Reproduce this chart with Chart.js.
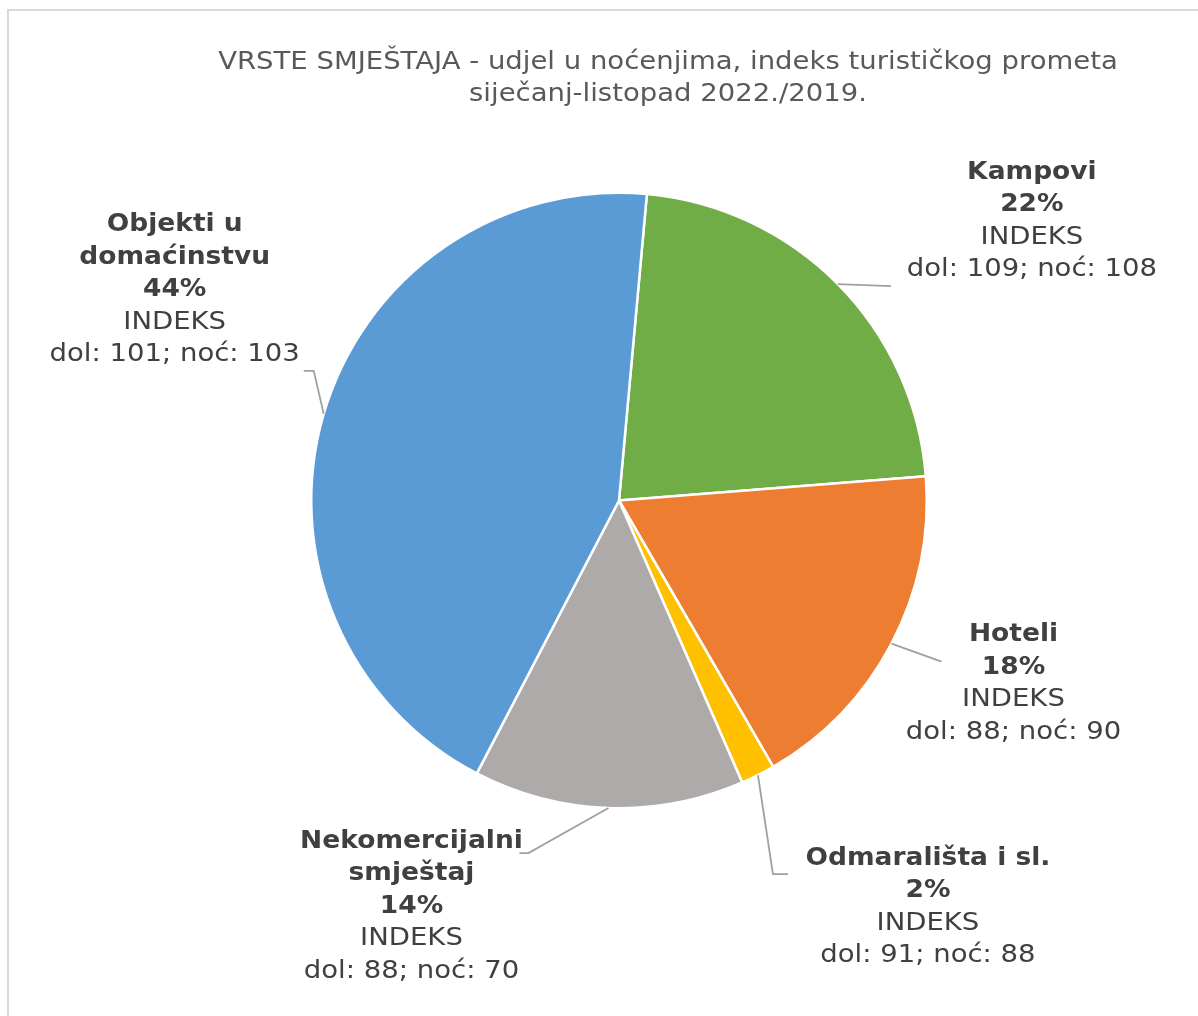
<!DOCTYPE html>
<html>
<head>
<meta charset="utf-8">
<script src="https://cdn.jsdelivr.net/npm/chart.js@4"></script>
<style>
  html, body { margin: 0; padding: 0; background: #fff; overflow: hidden; }
  #frame { position: absolute; left: 7px; top: 9px; width: 1300px; height: 1100px; border: 2px solid #d9d9d9; }
  #wrap { position: absolute; left: 0; top: 0; width: 1198px; height: 1016px; }
</style>
</head>
<body>
<div id="frame"></div>
<div id="wrap"><canvas id="pie" width="1198" height="1016"></canvas></div>
<script>
// data
const categories = ['Kampovi', 'Hoteli', 'Odmarališta i sl.', 'Nekomercijalni smještaj', 'Objekti u domaćinstvu'];
const labelLines = [['Kampovi'], ['Hoteli'], ['Odmarališta i sl.'], ['Nekomercijalni', 'smještaj'], ['Objekti u', 'domaćinstvu']];
const shares = [22.3, 17.9, 1.8, 14.2, 43.8];
const shareLabels = ['22%', '18%', '2%', '14%', '44%'];
const indexArrivals = [109, 88, 91, 88, 101];
const indexNights = [108, 90, 88, 70, 103];
const colors = ['#70AD47', '#ED7D31', '#FFC000', '#AEAAAA', '#5B9BD5'];

// label placement: offset of label centre from the slice's outer midpoint,
// leader end relative to label centre, and horizontal elbow length
const labelPlace = [
  { dx: 194, dy: -63, ex: -141, ey: 65, tail: 0 },
  { dx: 122, dy: 40, ex: -72, ey: -22, tail: 0 },
  { dx: 170, dy: 132, ex: -140, ey: -33, tail: -15 },
  { dx: -197, dy: 98, ex: 108, ey: -53, tail: 9 },
  { dx: -149, dy: -124, ex: 129, ey: 81, tail: 10 }
];

const FONT = '"DejaVu Sans", Verdana, sans-serif';
const LINE_H = 32.5;

// text slightly stretched sideways to get Verdana-like widths
function wideText(ctx, text, x, y, sx) {
  ctx.save();
  ctx.translate(x, y);
  ctx.scale(sx, 1);
  ctx.fillText(text, 0, 0);
  ctx.restore();
}

const outsideLabels = {
  id: 'outsideLabels',
  afterDraw(chart) {
    const ctx = chart.ctx;
    const arcs = chart.getDatasetMeta(0).data;
    ctx.save();
    // title
    ctx.fillStyle = '#595959';
    ctx.textAlign = 'center';
    ctx.textBaseline = 'middle';
    ctx.font = '25px ' + FONT;
    wideText(ctx, 'VRSTE SMJEŠTAJA - udjel u noćenjima, indeks turističkog prometa', 668, 62, 1.1);
    wideText(ctx, 'siječanj-listopad 2022./2019.', 668, 94, 1.1);

    arcs.forEach((arc, i) => {
      const p = arc.getProps(['x', 'y', 'startAngle', 'endAngle', 'outerRadius'], true);
      const mid = (p.startAngle + p.endAngle) / 2;
      const ax = p.x + Math.cos(mid) * p.outerRadius;
      const ay = p.y + Math.sin(mid) * p.outerRadius;
      const pl = labelPlace[i];
      const cx = ax + pl.dx, cy = ay + pl.dy;
      const ex = cx + pl.ex, ey = cy + pl.ey;

      // leader line
      ctx.strokeStyle = '#A0A0A0';
      ctx.lineWidth = 1.8;
      ctx.beginPath();
      ctx.moveTo(ax, ay);
      ctx.lineTo(ex + pl.tail, ey);
      ctx.lineTo(ex, ey);
      ctx.stroke();

      // text block
      const lines = labelLines[i].map(t => ({ t, bold: true }))
        .concat([{ t: shareLabels[i], bold: true },
                 { t: 'INDEKS', bold: false },
                 { t: 'dol: ' + indexArrivals[i] + '; noć: ' + indexNights[i], bold: false }]);
      const top = cy - (lines.length - 1) * LINE_H / 2;
      ctx.fillStyle = '#404040';
      lines.forEach((ln, k) => {
        ctx.font = (ln.bold ? 'bold ' : '') + '25px ' + FONT;
        wideText(ctx, ln.t, cx, top + k * LINE_H, ln.bold ? 1.06 : 1.1);
      });
    });
    ctx.restore();
  }
};

new Chart(document.getElementById('pie'), {
  type: 'pie',
  data: {
    labels: categories,
    datasets: [{
      data: shares,
      backgroundColor: colors,
      borderColor: '#ffffff',
      borderWidth: 2.5
    }]
  },
  options: {
    responsive: false,
    animation: false,
    rotation: 5.2,
    layout: { padding: { left: 310, right: 270, top: 191, bottom: 206 } },
    plugins: {
      legend: { display: false },
      title: { display: false },
      tooltip: { enabled: false }
    }
  },
  plugins: [outsideLabels]
});
</script>
</body>
</html>
